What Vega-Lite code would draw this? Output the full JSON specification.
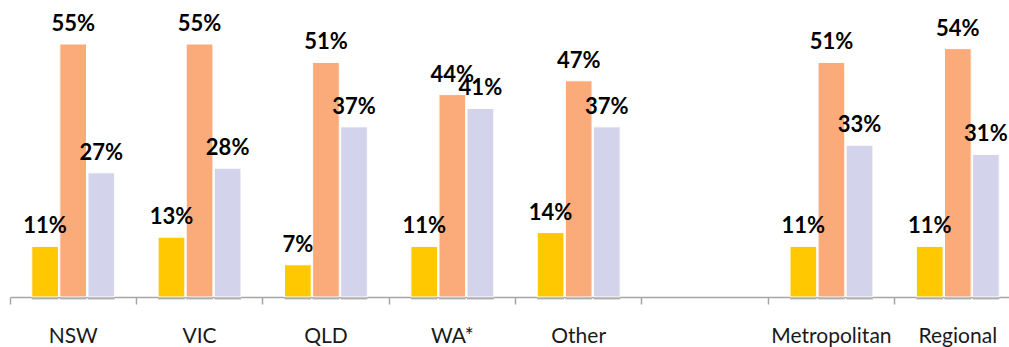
{
  "$schema": "https://vega.github.io/schema/vega-lite/v6.json",
  "autosize": "none",
  "width": 999,
  "height": 276,
  "padding": {"left": 10, "top": 21, "right": 0, "bottom": 50},
  "background": "white",
  "data": {
    "values": [
      {"region": "NSW", "series": "a", "pct": 0.11},
      {"region": "NSW", "series": "b", "pct": 0.55},
      {"region": "NSW", "series": "c", "pct": 0.27},
      {"region": "VIC", "series": "a", "pct": 0.13},
      {"region": "VIC", "series": "b", "pct": 0.55},
      {"region": "VIC", "series": "c", "pct": 0.28},
      {"region": "QLD", "series": "a", "pct": 0.07},
      {"region": "QLD", "series": "b", "pct": 0.51},
      {"region": "QLD", "series": "c", "pct": 0.37},
      {"region": "WA*", "series": "a", "pct": 0.11},
      {"region": "WA*", "series": "b", "pct": 0.44},
      {"region": "WA*", "series": "c", "pct": 0.41},
      {"region": "Other", "series": "a", "pct": 0.14},
      {"region": "Other", "series": "b", "pct": 0.47},
      {"region": "Other", "series": "c", "pct": 0.37},
      {"region": "Metropolitan", "series": "a", "pct": 0.11},
      {"region": "Metropolitan", "series": "b", "pct": 0.51},
      {"region": "Metropolitan", "series": "c", "pct": 0.33},
      {"region": "Regional", "series": "a", "pct": 0.11},
      {"region": "Regional", "series": "b", "pct": 0.54},
      {"region": "Regional", "series": "c", "pct": 0.31}
    ]
  },
  "encoding": {
    "x": {
      "field": "region",
      "type": "nominal",
      "sort": null,
      "scale": {
        "domain": ["NSW", "VIC", "QLD", "WA*", "Other", " ", "Metropolitan", "Regional"],
        "range": [0, 1011],
        "paddingInner": 0,
        "paddingOuter": 0
      },
      "axis": {
        "title": null,
        "labelAngle": 0,
        "bandPosition": 0,
        "labelFont": "Lato",
        "labelFontSize": 21,
        "labelColor": "#1a1a1a",
        "labelBaseline": "alphabetic",
        "labelPadding": 38,
        "tickSize": 7,
        "tickColor": "#a6a6a6",
        "tickWidth": 1.5,
        "domainColor": "#a6a6a6",
        "domainWidth": 1.5
      }
    },
    "xOffset": {
      "field": "series",
      "type": "nominal",
      "scale": {"paddingInner": 0.05, "paddingOuter": 0.775}
    },
    "y": {
      "field": "pct",
      "type": "quantitative",
      "scale": {"domain": [0, 0.6]},
      "axis": null
    }
  },
  "layer": [
    {
      "mark": {"type": "bar", "color": "#6f6f6f", "opacity": 0.22, "xOffset": 4, "yOffset": 3},
      "encoding": {}
    },
    {
      "mark": {"type": "bar", "color": "#6f6f6f", "opacity": 0.35, "xOffset": 2, "yOffset": 2},
      "encoding": {}
    },
    {
      "mark": {"type": "bar", "stroke": "white", "strokeWidth": 1},
      "encoding": {
        "color": {
          "field": "series",
          "type": "nominal",
          "scale": {"domain": ["a", "b", "c"], "range": ["#FFC800", "#FBAA7A", "#D3D4EB"]},
          "legend": null
        }
      }
    },
    {
      "mark": {
        "type": "text",
        "font": "Lato",
        "fontSize": 22,
        "fontWeight": "bold",
        "color": "#000000",
        "baseline": "alphabetic",
        "dy": -13
      },
      "encoding": {
        "text": {"field": "pct", "type": "quantitative", "format": ".0%"},
        "detail": {"field": "series"}
      }
    }
  ],
  "config": {"view": {"stroke": null}}
}
